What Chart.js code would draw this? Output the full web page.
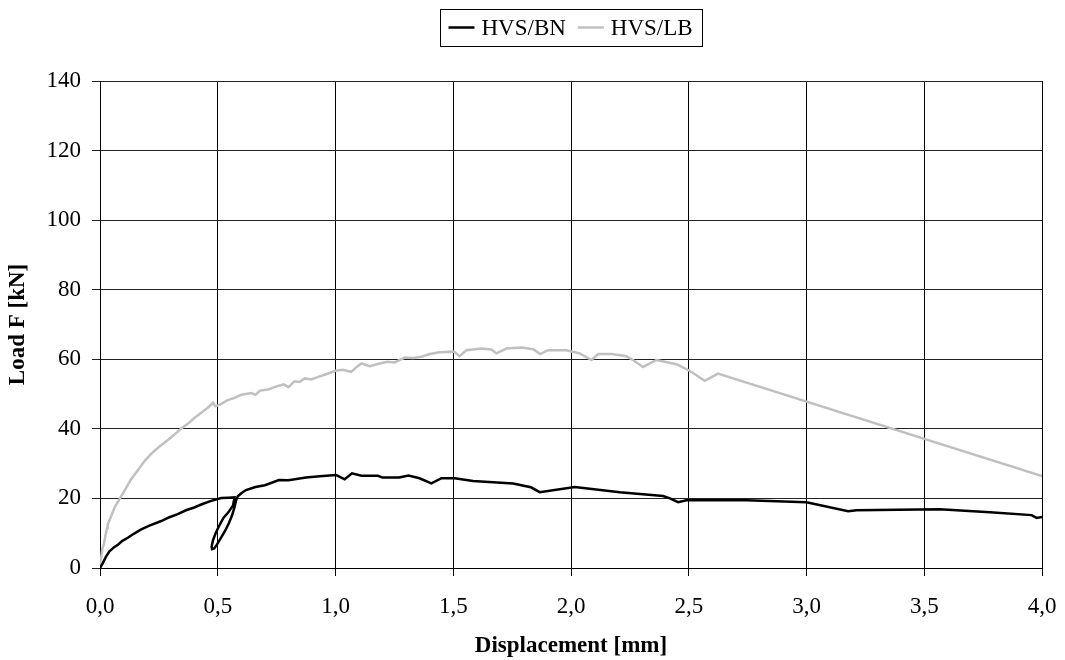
<!DOCTYPE html>
<html>
<head>
<meta charset="utf-8">
<script src="https://cdn.jsdelivr.net/npm/chart.js@4"></script>
<style>
  html, body { margin: 0; padding: 0; background: #fff; }
  #wrap { width: 1065px; height: 660px; }
</style>
</head>
<body>
<div id="wrap"><canvas id="chart" width="1065" height="660"></canvas></div>
<script>
// --- Dane ---
const seriesNames = ['HVS/BN', 'HVS/LB'];
const seriesColors = ['#000000', '#c0c0c0'];

const bnX = [0, 0.012, 0.025, 0.04, 0.06, 0.076, 0.095, 0.118, 0.145, 0.175, 0.21, 0.26, 0.295, 0.33, 0.365, 0.4, 0.435, 0.472, 0.515, 0.545, 0.571,
  0.565, 0.545, 0.524, 0.505, 0.491, 0.48, 0.474, 0.476, 0.485,
  0.497, 0.513, 0.532, 0.548, 0.56, 0.57, 0.578, 0.585, 0.6, 0.62, 0.66, 0.7, 0.76, 0.8, 0.875, 0.933,
  1.003, 1.039, 1.07, 1.11, 1.18, 1.2, 1.27, 1.31, 1.357, 1.407, 1.45, 1.506, 1.584, 1.754, 1.83, 1.867,
  2.016, 2.207, 2.391, 2.42, 2.455, 2.49, 2.745, 3.0, 3.177, 3.212, 3.566, 3.779, 3.956, 3.977, 4.0];
const bnY = [0, 1.4, 3.2, 4.8, 6.0, 6.7, 7.8, 8.7, 9.9, 11.1, 12.2, 13.5, 14.6, 15.5, 16.6, 17.4, 18.4, 19.3, 20.1, 20.2, 20.3,
  18.0, 16.0, 14.4, 12.0, 10.0, 8.0, 6.2, 5.4, 5.6,
  6.8, 8.6, 10.8, 13.0, 15.0, 17.2, 19.5, 20.6, 21.5, 22.4, 23.3, 23.8, 25.3, 25.2, 26.0, 26.4,
  26.7, 25.5, 27.2, 26.5, 26.5, 26.0, 26.0, 26.6, 25.8, 24.3, 25.8, 25.8, 25.0, 24.3, 23.2, 21.8,
  23.3, 21.8, 20.7, 20.0, 18.9, 19.5, 19.5, 18.9, 16.3, 16.6, 16.9, 16.0, 15.2, 14.4, 14.7];

const lbX = [0, 0.002, 0.005, 0.01, 0.016, 0.022, 0.03, 0.033, 0.045, 0.062, 0.08, 0.104, 0.13, 0.16, 0.19, 0.217, 0.25, 0.288, 0.31,
  0.345, 0.37, 0.401, 0.43, 0.465, 0.48, 0.49, 0.508, 0.54, 0.571, 0.6, 0.642, 0.66, 0.68, 0.713, 0.75, 0.78, 0.8, 0.826,
  0.847, 0.87, 0.897, 0.93, 0.96, 1.0, 1.03, 1.067, 1.09, 1.11, 1.145, 1.187, 1.22, 1.251, 1.294, 1.33, 1.364, 1.4, 1.442,
  1.503, 1.527, 1.556, 1.62, 1.662, 1.683, 1.726, 1.79, 1.839, 1.87, 1.902, 1.98, 2.037, 2.087, 2.115, 2.172, 2.235,
  2.263, 2.306, 2.363, 2.448, 2.504, 2.568, 2.624, 4.0];
const lbY = [0, 2.0, 3.0, 5.5, 6.7, 9.0, 11.5, 12.6, 14.5, 17.4, 19.5, 22.2, 25.3, 28.0, 30.8, 32.8, 34.8, 36.8, 38.0,
  40.1, 41.3, 43.1, 44.6, 46.5, 47.5, 46.5, 46.9, 48.2, 48.9, 49.8, 50.3, 49.8, 51.0, 51.3, 52.2, 52.8, 52.0, 53.7,
  53.5, 54.5, 54.2, 55.0, 55.7, 56.7, 57.0, 56.4, 57.8, 58.8, 58.0, 58.8, 59.3, 59.1, 60.5, 60.4, 60.7, 61.5, 62.0,
  62.2, 60.9, 62.6, 63.1, 62.8, 61.7, 63.1, 63.4, 62.9, 61.5, 62.6, 62.6, 61.7, 59.8, 61.5, 61.5, 60.9,
  59.8, 57.8, 59.8, 58.6, 56.7, 53.8, 55.9, 26.4];

const xTicks = [0, 0.5, 1.0, 1.5, 2.0, 2.5, 3.0, 3.5, 4.0];
const yTicks = [0, 20, 40, 60, 80, 100, 120, 140];
const xTitle = 'Displacement [mm]';
const yTitle = 'Load F [kN]';

// --- Pomocnicze ---
const FONT = '"Liberation Serif", "Times New Roman", serif';
const toPoints = (xs, ys) => xs.map((x, i) => ({x, y: ys[i]}));

// Legenda w ramce, wyśrodkowana nad obszarem wykresu
const boxedLegend = {
  id: 'boxedLegend',
  afterDraw(chart) {
    const ctx = chart.ctx;
    const area = chart.chartArea;
    ctx.save();
    ctx.font = '23px ' + FONT;
    const lineLen = 26, gapLine = 7, gapItem = 12, padL = 8, padR = 10;
    const widths = seriesNames.map(n => ctx.measureText(n).width);
    let total = padL + padR;
    widths.forEach((w, i) => { total += lineLen + gapLine + w + (i ? gapItem : 0); });
    const top = 9, h = 37, mid = top + h / 2;
    let x = Math.round((area.left + area.right) / 2 - total / 2) + 0.5;
    ctx.strokeStyle = '#000';
    ctx.lineWidth = 1;
    ctx.strokeRect(x, top + 0.5, Math.round(total), h);
    let cx = x + padL;
    ctx.textBaseline = 'middle';
    ctx.fillStyle = '#000';
    seriesNames.forEach((n, i) => {
      if (i) cx += gapItem;
      ctx.strokeStyle = seriesColors[i];
      ctx.lineWidth = 2.5;
      ctx.beginPath();
      ctx.moveTo(cx, mid);
      ctx.lineTo(cx + lineLen, mid);
      ctx.stroke();
      cx += lineLen + gapLine;
      ctx.fillText(n, cx, mid + 1);
      cx += widths[i];
    });
    ctx.restore();
  }
};

const tickFont = { family: FONT, size: 23 };
const titleFont = { family: FONT, size: 23, weight: 'bold' };

new Chart(document.getElementById('chart'), {
  type: 'scatter',
  data: {
    datasets: [
      { label: seriesNames[0], data: toPoints(bnX, bnY), borderColor: seriesColors[0], backgroundColor: seriesColors[0],
        showLine: true, borderWidth: 2.5, pointRadius: 0, tension: 0 },
      { label: seriesNames[1], data: toPoints(lbX, lbY), borderColor: seriesColors[1], backgroundColor: seriesColors[1],
        showLine: true, borderWidth: 2.5, pointRadius: 0, tension: 0 }
    ]
  },
  options: {
    responsive: false,
    animation: false,
    events: [],
    layout: { padding: { top: 81, right: 23, left: 0, bottom: 0 } },
    plugins: { legend: { display: false }, tooltip: { enabled: false } },
    scales: {
      x: {
        type: 'linear', min: 0, max: 4,
        afterBuildTicks: s => { s.ticks = xTicks.map(v => ({value: v})); },
        afterFit: s => { s.height = 92; s.paddingLeft = 0; s.paddingRight = 0; },
        ticks: { font: tickFont, color: '#000', padding: 17, maxRotation: 0,
          callback: v => v.toFixed(1).replace('.', ',') },
        grid: { color: '#000', lineWidth: 1, tickLength: 8 },
        border: { color: '#000' },
        title: { display: true, text: xTitle, font: titleFont, color: '#000', padding: { top: 4, bottom: 0 } }
      },
      y: {
        type: 'linear', min: 0, max: 140,
        afterBuildTicks: s => { s.ticks = yTicks.map(v => ({value: v})); },
        afterFit: s => { s.width = 100; s.paddingTop = 0; s.paddingBottom = 0; },
        ticks: { font: tickFont, color: '#000', padding: 11 },
        grid: { color: '#222', lineWidth: 1, tickLength: 8 },
        border: { color: '#000' },
        title: { display: true, text: yTitle, font: titleFont, color: '#000', padding: { top: 4, bottom: 4 } }
      }
    }
  },
  plugins: [boxedLegend]
});
</script>
</body>
</html>
